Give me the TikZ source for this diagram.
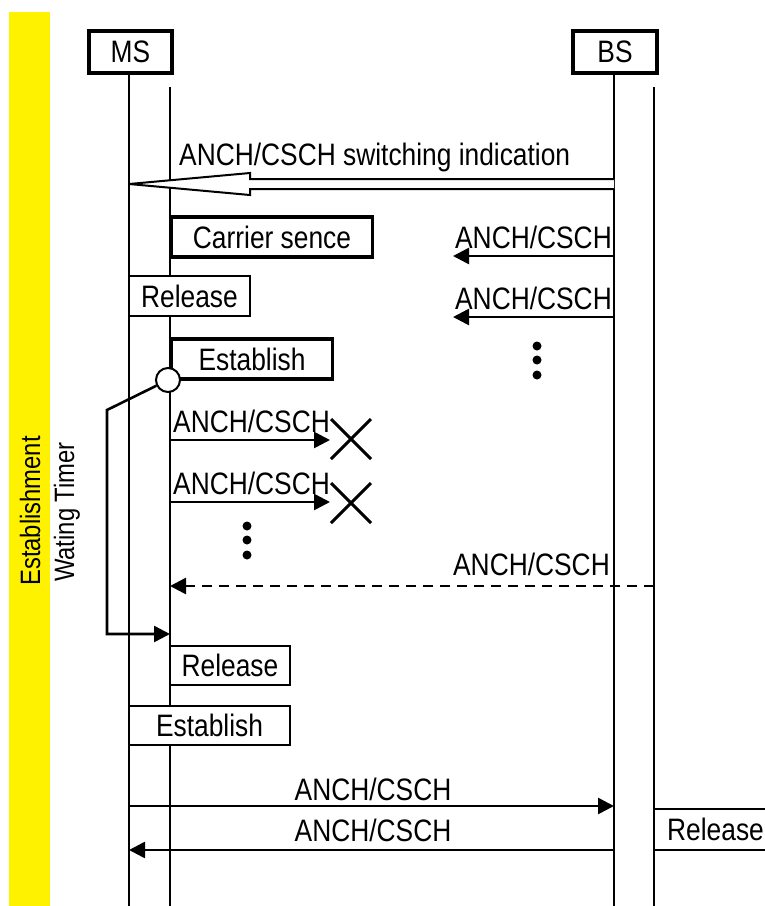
\documentclass[tikz,border=0pt]{standalone}
\usepackage{fontspec}
\setmainfont{Liberation Sans}[FakeStretch=0.85]
\usetikzlibrary{arrows.meta}
\tikzset{
  life/.style={line width=2pt},
  thickbox/.style={draw, line width=3.4pt, fill=white, inner sep=0pt},
  thinbox/.style={draw, line width=2pt, fill=white, inner sep=0pt},
  msg/.style={line width=2.6pt, -{Triangle[length=16pt,width=16pt]}},
  dmsg/.style={msg, dash pattern=on 10pt off 7pt},
  lbl/.style={inner sep=0pt},
  dotmark/.style={circle, fill=black, inner sep=0pt, minimum size=9pt},
  xmark/.style={line width=3pt},
}
\begin{document}
\begin{tikzpicture}[x=1pt,y=-1pt,font=\fontsize{31}{33}\selectfont]
\useasboundingbox (0,0) rectangle (765,906);
% yellow band
\fill[yellow] (9,12) rectangle (50,906);
\node[lbl, rotate=90] (estm) at (30,511) {\fontsize{28}{30}\selectfont Establishment};
\node[lbl, rotate=90] (wt) at (67,512) {\fontsize{28}{30}\selectfont Wating Timer};

% lifelines
\node[thickbox, minimum width=83pt, minimum height=42pt] (ms) at (130.5,52) {MS};
\node[thickbox, minimum width=84pt, minimum height=42pt] (bs) at (615,52) {BS};
\coordinate (ms2top) at (170,87);
\coordinate (bs2top) at (654,87);
\coordinate (msbot) at (129,906);
\coordinate (ms2bot) at (170,906);
\coordinate (bsbot) at (614,906);
\coordinate (bs2bot) at (654,906);
\draw[life] (ms.south -| msbot) -- (msbot);
\draw[life] (ms2top) -- (ms2bot);
\draw[life] (bs.south -| bsbot) -- (bsbot);
\draw[life] (bs2top) -- (bs2bot);

% switching indication (hollow arrow)
\draw[line width=2pt, fill=white] (614,179) -- (250,179) -- (250,173) -- (129,184) -- (250,195) -- (250,189) -- (614,189);
\node[lbl, anchor=base west] (sw) at (179,165) {ANCH/CSCH switching indication};

% carrier sense
\node[thickbox, minimum width=201pt, minimum height=40pt] (cs) at (272,237) {Carrier sence};
\coordinate (a1s) at (614,256); \coordinate (a1e) at (453,256);
\draw[msg] (a1s) -- (a1e);
\node[lbl, anchor=base east] (l1) at (612,248) {ANCH/CSCH};

\node[thinbox, minimum width=121pt, minimum height=40pt] (rel1) at (189.5,296) {Release};
\coordinate (a2s) at (614,317); \coordinate (a2e) at (453,317);
\draw[msg] (a2s) -- (a2e);
\node[lbl, anchor=base east] (l2) at (612,309) {ANCH/CSCH};

\node[dotmark] (d1) at (537,346) {};
\node[dotmark] (d2) at (537,360) {};
\node[dotmark] (d3) at (537,375) {};

% establish
\node[thickbox, minimum width=161pt, minimum height=40pt] (est1) at (252,359) {Establish};
\node[draw, circle, fill=white, line width=2pt, minimum size=24pt, inner sep=0pt] (tm) at (168,380) {};
\coordinate (tk1) at (107,410);
\coordinate (tk2) at (107,634);
\coordinate (tk3) at (170,634);
\draw[line width=2.6pt, -{Triangle[length=16pt,width=16pt]}] (tm) -- (tk1) -- (tk2) -- (tk3);

% failed attempts
\coordinate (b1s) at (170,440); \coordinate (b1e) at (330,440);
\draw[msg] (b1s) -- (b1e);
\node[lbl, anchor=base west] (l3) at (173,432) {ANCH/CSCH};
\coordinate (x1) at (351,439);
\draw[xmark] ([shift={(-20,-20)}]x1) -- ([shift={(20,20)}]x1);
\draw[xmark] ([shift={(-20,20)}]x1) -- ([shift={(20,-20)}]x1);

\coordinate (b2s) at (170,502); \coordinate (b2e) at (330,502);
\draw[msg] (b2s) -- (b2e);
\node[lbl, anchor=base west] (l4) at (173,494) {ANCH/CSCH};
\coordinate (x2) at (351,503);
\draw[xmark] ([shift={(-20,-20)}]x2) -- ([shift={(20,20)}]x2);
\draw[xmark] ([shift={(-20,20)}]x2) -- ([shift={(20,-20)}]x2);

\node[dotmark] (d4) at (247,526) {};
\node[dotmark] (d5) at (247,540) {};
\node[dotmark] (d6) at (247,555) {};

% dashed
\coordinate (c1s) at (654,586); \coordinate (c1e) at (170,586);
\draw[dmsg] (c1s) -- (c1e);
\node[lbl, anchor=base east] (l5) at (610,575) {ANCH/CSCH};

% release / establish
\node[thinbox, minimum width=120pt, minimum height=39pt] (rel2) at (230,665.5) {Release};
\node[thinbox, minimum width=161pt, minimum height=39pt] (est2) at (209.5,725.5) {Establish};

% final exchange
\coordinate (e1s) at (129,806); \coordinate (e1e) at (614,806);
\draw[msg] (e1s) -- (e1e);
\node[lbl, anchor=base] (l6) at (373,800) {ANCH/CSCH};
\coordinate (e2s) at (614,850); \coordinate (e2e) at (129,850);
\draw[msg] (e2s) -- (e2e);
\node[lbl, anchor=base] (l7) at (373,841) {ANCH/CSCH};

% release on the right (open box)
\draw[line width=2pt, fill=white] (767,809) -- (654,809) -- (654,850) -- (767,850);
\node[lbl, anchor=base west] (rel3) at (667,840) {Release};
\end{tikzpicture}
\end{document}
